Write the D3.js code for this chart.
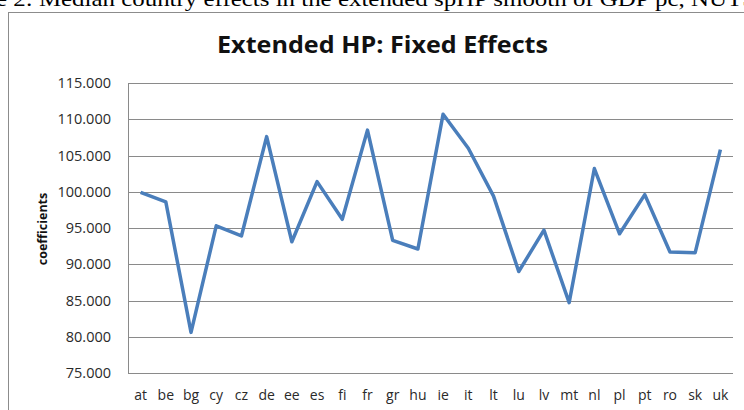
<!DOCTYPE html>
<html>
<head>
<meta charset="utf-8">
<script src="https://cdnjs.cloudflare.com/ajax/libs/d3/7.8.5/d3.min.js"></script>
<style>
body { margin: 0; background: #fff; }
svg { display: block; }
</style>
</head>
<body>
<svg id="chart" width="744" height="410"></svg>
<script>
var countries = ['at','be','bg','cy','cz','de','ee','es','fi','fr','gr','hu','ie','it','lt','lu','lv','mt','nl','pl','pt','ro','sk','uk'];
var coefficients = [99.9, 98.6, 80.6, 95.3, 93.9, 107.6, 93.1, 101.4, 96.2, 108.5, 93.3, 92.1, 110.7, 106.0, 99.4, 89.0, 94.7, 84.7, 103.2, 94.2, 99.6, 91.7, 91.6, 105.8];
var yTicks = [75, 80, 85, 90, 95, 100, 105, 110, 115];

var svg = d3.select("#chart");
var margin = {left: 128, right: 11, top: 83, bottom: 37};
var w = 744 - margin.left - margin.right;
var h = 410 - margin.top - margin.bottom;

// caption of the page, cut at the top
svg.append("text")
	.attr("x", -4).attr("y", 6)
	.attr("textLength", 760)
	.attr("lengthAdjust", "spacingAndGlyphs")
	.style("font-family", "Liberation Serif")
	.style("font-size", "22px")
	.text("e 2: Median country effects in the extended spHP smooth of GDP pc, NUTS");

// chart frame
svg.append("rect")
	.attr("x", 8.5).attr("y", 12.5)
	.attr("width", 760).attr("height", 420)
	.style("fill", "none").style("stroke", "#8c8c8c");

svg.append("text")
	.attr("x", 217).attr("y", 53)
	.attr("textLength", 331)
	.attr("lengthAdjust", "spacingAndGlyphs")
	.style("font-family", "Open Sans").style("font-weight", "bold")
	.style("font-size", "23px").style("fill", "#111")
	.text("Extended HP: Fixed Effects");

var x = d3.scaleBand().domain(countries).range([0, w]);
var y = d3.scaleLinear().domain([75, 115]).range([h, 0]);

var g = svg.append("g").attr("transform", "translate(" + margin.left + "," + margin.top + ")");

g.selectAll("line.grid")
	.data(yTicks)
	.enter()
	.append("line")
	.attr("class", "grid")
	.attr("x1", 0).attr("x2", w)
	.attr("y1", function(d) { return Math.round(y(d)) + 0.5; })
	.attr("y2", function(d) { return Math.round(y(d)) + 0.5; })
	.style("stroke", "#8a8a8a").style("stroke-width", 1);

g.append("line")
	.attr("x1", 0.5).attr("x2", 0.5)
	.attr("y1", 0).attr("y2", h)
	.style("stroke", "#8a8a8a");

var yAxis = d3.axisLeft(y).tickValues(yTicks).tickSize(0).tickPadding(17)
	.tickFormat(d3.format(".3f"));
g.append("g").call(yAxis)
	.call(function(a) { a.select(".domain").remove(); })
	.selectAll("text")
	.style("font-family", "Open Sans").style("font-size", "14.5px").style("fill", "#2a2a2a");

var xAxis = d3.axisBottom(x).tickSize(0).tickPadding(17);
g.append("g").attr("transform", "translate(0," + h + ")").call(xAxis)
	.call(function(a) { a.select(".domain").remove(); })
	.selectAll("text")
	.style("font-family", "Open Sans").style("font-size", "14px").style("fill", "#2a2a2a");

svg.append("text")
	.attr("transform", "translate(47,229) rotate(-90)")
	.attr("text-anchor", "middle")
	.style("font-family", "Open Sans").style("font-weight", "bold")
	.style("font-size", "12.5px").style("fill", "#111")
	.text("coefficients");

var line = d3.line()
	.x(function(d, i) { return x(countries[i]) + x.bandwidth() / 2; })
	.y(function(d) { return y(d); });

g.append("path")
	.datum(coefficients)
	.attr("d", line)
	.style("fill", "none")
	.style("stroke", "#4a7ebb")
	.style("stroke-width", 3.5)
	.style("stroke-linejoin", "round");
</script>
</body>
</html>
